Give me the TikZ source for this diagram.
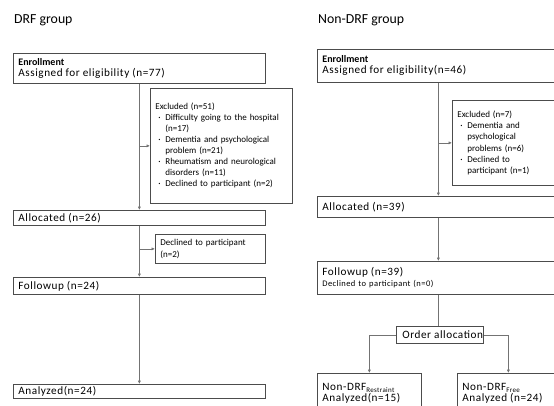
\documentclass[tikz,border=0pt]{standalone}
\usepackage{fontspec}
\setmainfont{Carlito}
\newfontfamily\spcfont[LetterSpace=5]{Carlito}
\usetikzlibrary{arrows.meta}

\newcommand{\bigtxt}{\spcfont\fontsize{11.2}{13}\selectfont}
\newcommand{\exbul}{\hspace*{3pt}\makebox[7pt][l]{·}}
\newcommand{\exind}{\hspace*{10pt}}

\tikzset{
  box/.style={draw=black!70, line width=0.75pt, anchor=north west, inner xsep=5pt,
    inner ysep=0pt, align=left, font=\fontsize{9}{11}\selectfont},
  title/.style={anchor=west, inner sep=0pt, font=\fontsize{13.8}{16}\selectfont},
  link/.style={draw=black!55, line width=0.65pt, -{Latex[length=3.5pt,width=3.2pt]}},
  plain/.style={draw=black!55, line width=0.65pt},
}

\begin{document}
\begin{tikzpicture}[x=1pt, y=-1pt]
  \useasboundingbox (0,0) rectangle (554,405);
  \clip (0,0) rectangle (554,405);

  % DRF group
  \node[title] (t1) at (14,20) {DRF group};
  \node[box, text width=242pt, minimum height=30pt] (enr1) at (13,53)
    {{\bfseries\fontsize{10}{13}\selectfont Enrollment}\\ \bigtxt Assigned for eligibility (n=77)};
  \node[box, text width=132pt, minimum height=115pt] (excl1) at (150,88)
    {Excluded (n=51)\\
     \exbul Difficulty going to the hospital\\
     \exind (n=17)\\
     \exbul Dementia and psychological\\
     \exind problem (n=21)\\
     \exbul Rheumatism and neurological\\
     \exind disorders (n=11)\\
     \exbul Declined to participant (n=2)};
  \node[box, text width=242pt, minimum height=15pt] (alloc1) at (13,210) {\bigtxt Allocated (n=26)};
  \node[box, text width=100pt, minimum height=29pt, font=\fontsize{9}{12}\selectfont] (decl1) at (155,234)
    {Declined to participant\\(n=2)};
  \node[box, text width=242pt, minimum height=17pt] (follow1) at (13,277) {\bigtxt Followup (n=24)};
  \node[box, text width=242pt, minimum height=14pt] (ana1) at (13,384) {\bigtxt Analyzed(n=24)};

  \draw[link] (enr1.south) -- (alloc1.north);
  \draw[link] (enr1.south |- excl1.west) -- (excl1.west);
  \draw[link] (alloc1.south) -- (follow1.north);
  \draw[link] (alloc1.south |- decl1.west) -- (decl1.west);
  \draw[link] (follow1.south) -- (ana1.north);

  % Non-DRF group
  \node[title] (t2) at (318,20) {Non-DRF group};
  \node[box, text width=232pt, minimum height=33pt] (enr2) at (317,49)
    {{\bfseries\fontsize{10}{13}\selectfont Enrollment}\\ \bigtxt Assigned for eligibility(n=46)};
  \node[box, text width=97pt, minimum height=85pt, font=\fontsize{9}{11.3}\selectfont] (excl2) at (452,100)
    {Excluded (n=7)\\
     \exbul Dementia and\\
     \exind psychological\\
     \exind problems (n=6)\\
     \exbul Declined to\\
     \exind participant (n=1)};
  \node[box, text width=232pt, minimum height=21pt] (alloc2) at (317,196) {\bigtxt Allocated (n=39)};
  \node[box, text width=232pt, minimum height=33pt] (follow2) at (317,261)
    {\bigtxt Followup (n=39)\\ {\fontsize{8.5}{10}\selectfont Declined to participant (n=0)}};
  \node[box, text width=75pt, inner xsep=6pt, minimum height=17pt] (order) at (396,326)
    {\mbox{\bigtxt Order allocation}};
  \node[box, text width=94pt, minimum height=40pt] (restr) at (317,373)
    {\bigtxt Non-DRF\raisebox{-1.5pt}{\fontsize{7}{8}\selectfont Restraint}\\ \bigtxt Analyzed(n=15)};
  \node[box, text width=92pt, minimum height=40pt] (free) at (457,373)
    {\bigtxt Non-DRF\raisebox{-1.5pt}{\fontsize{7}{8}\selectfont Free}\\ \bigtxt Analyzed (n=24)};

  \draw[link] (enr2.south) -- (alloc2.north);
  \draw[link] (enr2.south |- excl2.west) -- (excl2.west);
  \draw[link] (alloc2.south) -- (follow2.north);
  \draw[plain] (follow2.south) -- (follow2.south |- order.north);
  \draw[link] (order.west) -| (restr.north);
  \draw[link] (order.east) -| (free.north);
\end{tikzpicture}
\end{document}
